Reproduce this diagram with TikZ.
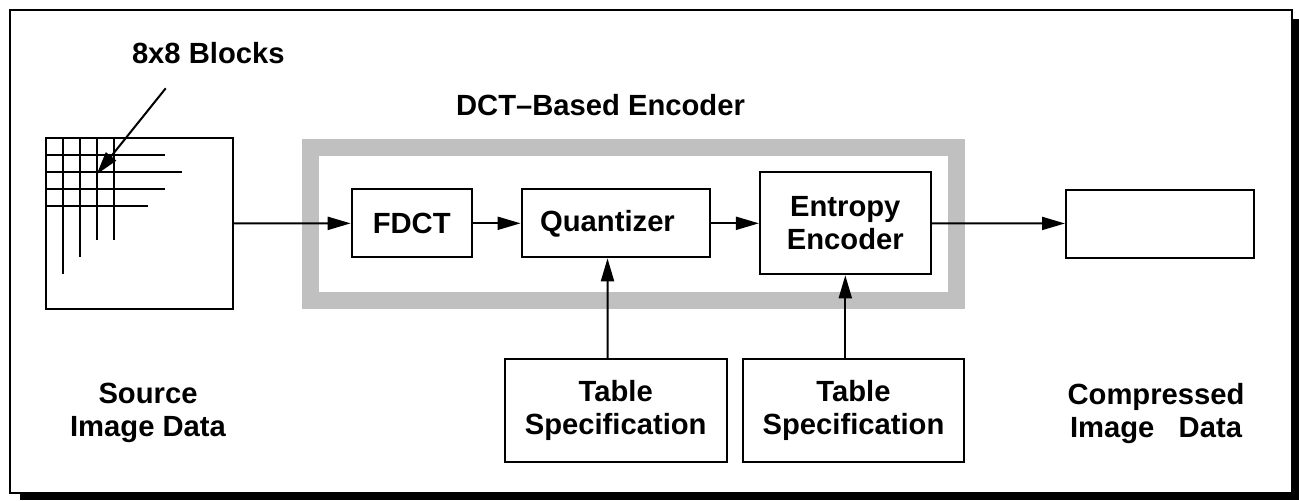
\documentclass[tikz,border=0pt]{standalone}
\usepackage{fontspec}
\setmainfont{Liberation Sans}
\usetikzlibrary{arrows.meta,calc}
\definecolor{framegray}{RGB}{192,192,192}

\begin{document}
\begin{tikzpicture}[x=0.5pt,y=-0.5pt,thick]
    % `block' is used for the boxed stages of the coder.
    % `caption' is used for the free bold labels.
    % `flow' is used for every arrow, `surround' for the grey encoder frame.
    \tikzstyle{block} = [draw,fill=white,line width=1pt,inner sep=0pt,align=center,font=\fontsize{14.6}{16.5}\selectfont\bfseries]
    \tikzstyle{caption} = [inner sep=0pt,align=center,font=\fontsize{14.6}{16.5}\selectfont\bfseries]
    \tikzstyle{flow} = [line width=1pt,-{Triangle[length=11.5pt,width=6.5pt]}]
    \tikzstyle{surround} = [draw=framegray,line width=8.5pt]
    %
    \useasboundingbox (0,0) rectangle (1299,500);
    % Shadow and outer frame.
    \fill (20,19) rectangle (1299,500);
    \draw[fill=white,line width=1pt] (10,10) rectangle (1291.5,492.5);
    % Source image with its 8x8 blocks.
    \node[block,minimum width=93.5pt,minimum height=85.5pt] (src) at (139.5,223.5) {};
    \foreach \k/\v/\h in {1/8/7,2/7/8,3/6/7,4/6/6} {
      \draw[line width=1pt] (46+17*\k,138) -- ++(0,17*\v);
      \draw[line width=1pt] (46,138+17*\k) -- ++(17*\h,0);
    }
    \node[caption,anchor=base] (blocks) at (208.3,63.7) {8x8 Blocks};
    \coordinate (blktail) at (165.7,88.3);
    \coordinate (blkhead) at (96.7,174.3);
    \draw[flow] (blktail) -- (blkhead);
    % Encoder frame.
    \node[caption,anchor=base] (title) at (600.5,115.4) {DCT–Based Encoder};
    \draw[surround] (310.5,147.5) rectangle (956.5,300);
    \node[block,minimum width=60pt,minimum height=34pt] (fdct) at (411.7,223.3) {FDCT};
    \node[block,minimum width=94.2pt,minimum height=34pt] (quant) at (615.8,223.3) {Quantizer\hspace*{8.3pt}};
    \node[block,minimum width=85.4pt,minimum height=51pt] (ent) at (845.3,223.3) {Entropy\\Encoder};
    \node[block,minimum width=94pt,minimum height=34pt] (out) at (1160,223.5) {};
    % Tables.
    \node[block,minimum width=111pt,minimum height=51.5pt] (tabq) at (615.7,410.8) {Table\\Specification};
    \node[block,minimum width=110.8pt,minimum height=51.5pt] (tabe) at (853.5,410.8) {Table\\Specification};
    \node[caption] (source) at (148,413) {Source\\Image Data};
    \node[caption] (compressed) at (1156,413) {Compressed\\Image\ \ \ Data};
    % Arrows.
    \draw[flow] (src) -- (fdct);
    \draw[flow] (fdct) -- (quant);
    \draw[flow] (quant) -- (ent);
    \draw[flow] (ent) -- (out);
    \draw[flow] ([xshift=-4.1pt]tabq.north) -- ([xshift=-4.15pt]quant.south);
    \draw[flow] (tabe.north -| ent.south) -- (ent.south);
\end{tikzpicture}
\end{document}
